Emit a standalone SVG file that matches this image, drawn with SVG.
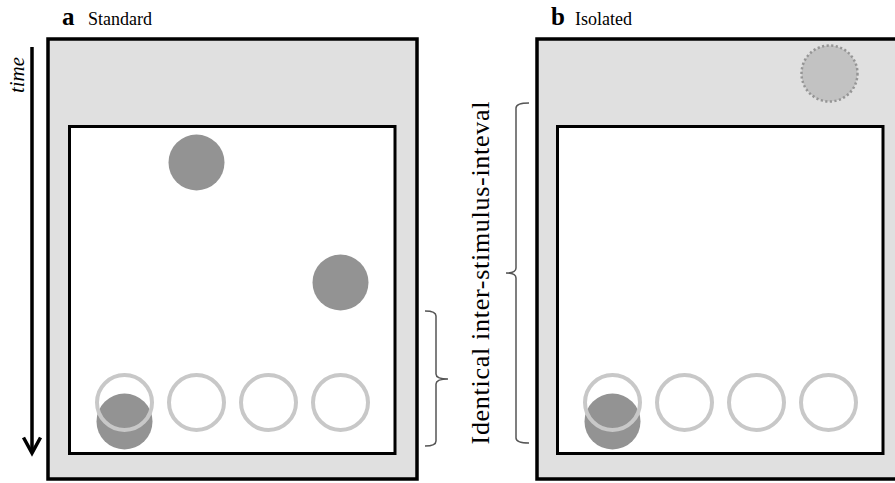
<svg xmlns="http://www.w3.org/2000/svg" width="895" height="483" viewBox="0 0 895 483">
  <style>
    .outer { fill: #e0e0e0; stroke: #000; stroke-width: 3.5; }
    .inner { fill: #fff; stroke: #000; stroke-width: 3; }
    .dot { fill: #939393; }
    .slot { fill: none; stroke: #c8c8c8; stroke-width: 4; }
    .ghost { fill: #c2c2c2; stroke: #959595; stroke-width: 2.5; stroke-dasharray: 2.2 2.4; }
    .brace { fill: none; stroke: #555; stroke-width: 1.5; }
    .serif { font-family: "Liberation Serif", "Times New Roman", serif; fill: #000; }
    .letter { font-size: 25px; font-weight: bold; }
    .title { font-size: 18px; }
  </style>

  <!-- panel a: standard -->
  <g id="panel-a">
    <text class="serif letter" x="62" y="25">a</text>
    <text class="serif title" x="88" y="25">Standard</text>
    <rect class="outer" x="48" y="39" width="369" height="440"/>
    <rect class="inner" x="69.5" y="126.5" width="325.5" height="327"/>
  </g>

  <g id="a-stimuli">
    <circle class="dot" cx="196.5" cy="162.5" r="28"/>
    <circle class="dot" cx="340.5" cy="282.5" r="28"/>
    <circle class="dot" cx="124.5" cy="421.5" r="28"/>
    <circle class="slot" cx="124.5" cy="402.5" r="27.5"/>
    <circle class="slot" cx="196.5" cy="402.5" r="27.5"/>
    <circle class="slot" cx="268.5" cy="402.5" r="27.5"/>
    <circle class="slot" cx="340.5" cy="402.5" r="27.5"/>
  </g>

  <!-- time axis -->
  <g id="time-axis">
    <line x1="32" y1="47" x2="32" y2="452" stroke="#000" stroke-width="3.5"/>
    <polyline points="23.5,437.5 32,453 40.5,437.5" fill="none" stroke="#000" stroke-width="3.5" stroke-linejoin="miter"/>
    <text class="serif" font-size="21" font-style="italic" text-anchor="middle" transform="translate(24,75) rotate(-90)">time</text>
  </g>

  <!-- panel b: isolated -->
  <g id="panel-b">
    <text class="serif letter" x="551" y="25">b</text>
    <text class="serif title" x="575" y="25">Isolated</text>
    <rect class="outer" x="537" y="39" width="369" height="440"/>
    <rect class="inner" x="557.5" y="126.5" width="325.5" height="327"/>
  </g>

  <g id="b-stimuli">
    <circle class="ghost" cx="829.5" cy="73.5" r="28"/>
    <circle class="dot" cx="612.5" cy="421.5" r="28"/>
    <circle class="slot" cx="612.5" cy="402.5" r="27.5"/>
    <circle class="slot" cx="684.5" cy="402.5" r="27.5"/>
    <circle class="slot" cx="756.5" cy="402.5" r="27.5"/>
    <circle class="slot" cx="828.5" cy="402.5" r="27.5"/>
  </g>

  <!-- interval braces -->
  <g id="connectors">
    <path class="brace" d="M425,311 Q436,311 436,316 L436,374 Q436,379 448,379 Q436,379 436,384 L436,441 Q436,446 425,446"/>
    <path class="brace" d="M529,103 Q516,103 516,108 L516,268 Q516,273 506,273 Q516,273 516,278 L516,438 Q516,443 529,443"/>
  </g>

  <g id="interval-label">
    <text class="serif" font-size="26" text-anchor="middle" textLength="343" lengthAdjust="spacing" transform="translate(489,273) rotate(-90)">Identical inter-stimulus-inteval</text>
  </g>
</svg>
